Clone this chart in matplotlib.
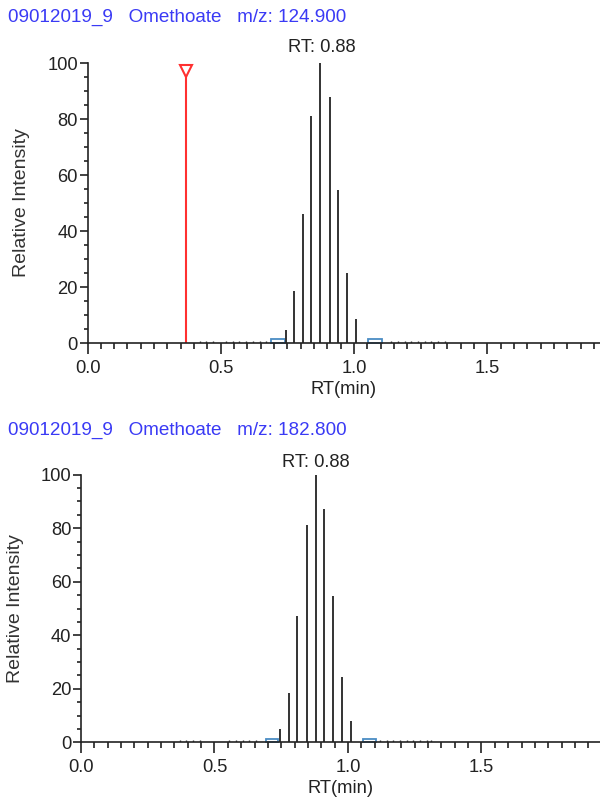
import numpy as np
import matplotlib
matplotlib.use("Agg")
import matplotlib.pyplot as plt
from matplotlib.patches import Rectangle
from matplotlib.ticker import MultipleLocator

plt.rcParams['font.family'] = ['Liberation Sans', 'DejaVu Sans']

# --- data ---
titles = ['09012019_9   Omethoate   m/z: 124.900',
          '09012019_9   Omethoate   m/z: 182.800']
peak_label = 'RT: 0.88'
peak_rt = 0.88

rt_top = [0.744, 0.774, 0.810, 0.839, 0.874, 0.910, 0.940, 0.975, 1.006]
int_top = [4.6, 18.6, 46.1, 81.2, 100.0, 87.7, 54.6, 25.1, 8.4]
rt_bot = [0.744, 0.778, 0.810, 0.845, 0.879, 0.911, 0.945, 0.978, 1.012]
int_bot = [5.0, 18.6, 47.1, 81.2, 100.0, 87.1, 54.8, 24.5, 7.9]

# tiny baseline scans
base_top = [0.422, 0.445, 0.47, 0.52, 0.545, 0.57, 0.595, 0.62, 0.647, 0.67,
            1.14, 1.165, 1.19, 1.215, 1.24, 1.265, 1.29, 1.315, 1.34]
base_bot = [0.37, 0.395, 0.42, 0.445, 0.555, 0.58, 0.605, 0.63, 0.655,
            1.12, 1.145, 1.17, 1.195, 1.22, 1.245, 1.27, 1.295, 1.31]

# integration boundary boxes (start, end)
bounds_top = [(0.687, 0.741), (1.051, 1.104)]
bounds_bot = [(0.693, 0.738), (1.055, 1.105)]

marker_rt = 0.37
marker_int = 97

xmax_top = 1.923
xmax_bot = 1.944

FS = 13.2

fig = plt.figure(figsize=(6.0, 7.98), dpi=100)

def draw_panel(ax, rts, ints, base, bounds, xmax, label_y):
    ax.vlines(rts, 0, ints, color='#333333', lw=1.4)
    ax.vlines(base, 0, 0.7, color='#333333', lw=1.0)
    for a, b in bounds:
        ax.add_patch(Rectangle((a, 0), b - a, 1.4, fill=False,
                               edgecolor='#4a8cc4', lw=1.3, clip_on=False))
    ax.set_xlim(0, xmax)
    ax.set_ylim(0, 100)
    for s in ['top', 'right']:
        ax.spines[s].set_visible(False)
    for s in ['left', 'bottom']:
        ax.spines[s].set_color('#222222')
        ax.spines[s].set_linewidth(1.2)
    ax.set_xticks([0.0, 0.5, 1.0, 1.5])
    ax.xaxis.set_minor_locator(MultipleLocator(0.05))
    ax.yaxis.set_major_locator(MultipleLocator(20))
    ax.yaxis.set_minor_locator(MultipleLocator(5))
    ax.tick_params(axis='both', which='major', labelsize=FS,
                   colors='#222222', width=1.2)
    ax.tick_params(axis='x', which='major', length=8, pad=4)
    ax.tick_params(axis='x', which='minor', length=4, width=1.2, color='#222222')
    ax.tick_params(axis='y', which='major', length=6, pad=1)
    ax.tick_params(axis='y', which='minor', length=3, width=1.2, color='#222222')
    ax.set_xlabel('RT(min)', fontsize=FS, color='#222222', labelpad=3)
    ax.set_ylabel('Relative Intensity', fontsize=14, color='#333333', labelpad=12)
    ax.text(peak_rt, label_y, peak_label, ha='center', va='bottom',
            fontsize=FS, color='#222222')

ax1 = fig.add_axes([87.5 / 600, 1 - 343 / 798, 512.5 / 600, 280 / 798])
draw_panel(ax1, rt_top, int_top, base_top, bounds_top, xmax_top, 102.5)
ax1.vlines([marker_rt], 0, marker_int, color='#ff3030', lw=1.5)
ax1.plot([marker_rt], [marker_int], marker='v', ms=9, mfc='white',
         mec='#ff3030', mew=1.5, clip_on=False)

ax2 = fig.add_axes([81 / 600, 1 - 742.3 / 798, 519 / 600, 267.6 / 798])
draw_panel(ax2, rt_bot, int_bot, base_bot, bounds_bot, xmax_bot, 101.5)

fig.text(8 / 600, 1 - 17 / 798, titles[0], ha='left', va='center',
         fontsize=13.6, color='#3a3af5')
fig.text(8 / 600, 1 - 430 / 798, titles[1], ha='left', va='center',
         fontsize=13.6, color='#3a3af5')

fig.savefig('out.png', dpi=100)
